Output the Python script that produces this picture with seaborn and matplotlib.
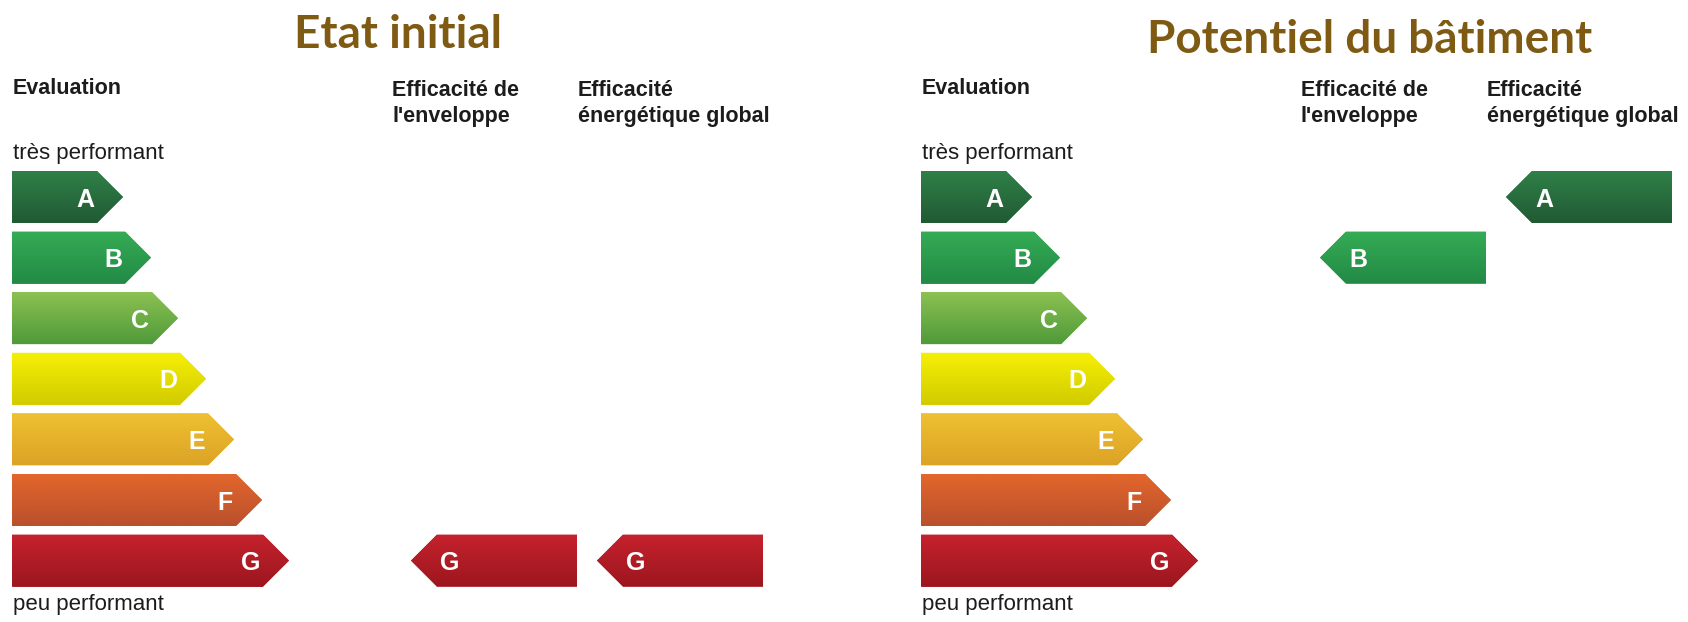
import matplotlib
matplotlib.use("Agg")
import matplotlib.pyplot as plt
from matplotlib import font_manager
from matplotlib.patches import Polygon
from matplotlib.colors import to_rgb
import numpy as np
import pandas as pd
import seaborn as sns

# Energy classes of the scale and length of each bar (rectangle part, px)
classes = ["A", "B", "C", "D", "E", "F", "G"]
bar_lengths = [85, 113, 140, 168, 196, 224, 251]
top_colors = ["#2f8048", "#35ab55", "#8cc152", "#f5ef05", "#efc132", "#e3662c", "#c5222d"]
bottom_colors = ["#215a33", "#228a45", "#4f9a3a", "#d2cb00", "#dca326", "#b9502c", "#9c161e"]

# Ratings for each panel
panel_titles = ["Etat initial", "Potentiel du bâtiment"]
rating_enveloppe = ["G", "B"]
rating_global = ["G", "A"]

# Layout (pixels)
W, H = 1688, 622
ROW0 = 197
ROW_STEP = 60.6
BAR_H = 52
TIP = 26
panel_x = [12, 921]
title_x = [398, 1370]
title_y = [48, 53]
col_x = [425, 611]
RATING_LEN = 140
AX_W = 760

sns.set_theme(style="white")
names = {f.name for f in font_manager.fontManager.ttflist}
if "Liberation Sans Narrow" in names:
    label_font, bold_size, reg_size = "Liberation Sans Narrow", 19, 19.5
else:
    label_font, bold_size, reg_size = "Liberation Sans", 15.5, 16
plt.rcParams["font.family"] = [label_font, "DejaVu Sans"]

fig = plt.figure(figsize=(W / 100, H / 100), dpi=100, facecolor="white")


def ftext(x, y, s, **kw):
    # text placed with pixel coordinates (baseline)
    fig.text(x / W, 1 - y / H, s, va="baseline", **kw)


def draw_arrow(ax, x_left, x_right, yc, idx, pointing="right"):
    h = BAR_H / ROW_STEP / 2
    if pointing == "right":
        pts = [(x_left, yc - h), (x_right, yc - h), (x_right + TIP, yc),
               (x_right, yc + h), (x_left, yc + h)]
        xmin, xmax = x_left, x_right + TIP
    else:
        pts = [(x_left, yc - h), (x_right, yc - h), (x_right, yc + h),
               (x_left, yc + h), (x_left - TIP, yc)]
        xmin, xmax = x_left - TIP, x_right
    top = np.array(to_rgb(top_colors[idx]))
    bot = np.array(to_rgb(bottom_colors[idx]))
    poly = Polygon(pts, closed=True, facecolor=(top + bot) / 2, edgecolor="none", zorder=2)
    ax.add_patch(poly)
    t = np.linspace(0, 1, 64)[:, None, None]
    rgb = top * (1 - t) + bot * t
    im = ax.imshow(rgb, extent=[xmin, xmax, yc + h, yc - h], origin="upper",
                   aspect="auto", zorder=3, interpolation="bilinear")
    im.set_clip_path(poly)


df = pd.DataFrame({"classe": classes, "longueur": bar_lengths})
mid_colors = {c: tuple((np.array(to_rgb(a)) + np.array(to_rgb(b))) / 2)
              for c, a, b in zip(classes, top_colors, bottom_colors)}

for p in range(2):
    ox = panel_x[p]
    ax = fig.add_axes([ox / W, 0, AX_W / W, 1])
    sns.barplot(data=df, x="longueur", y="classe", hue="classe", palette=mid_colors,
                orient="h", width=BAR_H / ROW_STEP, saturation=1, legend=False, ax=ax)

    for patch in list(ax.patches):
        yc = patch.get_y() + patch.get_height() / 2
        idx = int(round(yc))
        x0 = patch.get_x()
        x1 = x0 + patch.get_width()
        draw_arrow(ax, x0, x1, yc, idx, "right")
        ax.text(x1 - 3, yc + 9.5 / ROW_STEP, classes[idx], ha="right", va="baseline",
                color="white", fontsize=18, fontweight="bold",
                family=["Liberation Sans", "DejaVu Sans"], zorder=5)

    # rating arrows (pointing left)
    for col, rating in zip(col_x, [rating_enveloppe[p], rating_global[p]]):
        idx = classes.index(rating)
        draw_arrow(ax, col, col + RATING_LEN, idx, idx, "left")
        ax.text(col + 3, idx + 9.5 / ROW_STEP, rating, ha="left", va="baseline",
                color="white", fontsize=18, fontweight="bold",
                family=["Liberation Sans", "DejaVu Sans"], zorder=5)

    ax.set_xlim(0, AX_W)
    ax.set_ylim((H - ROW0) / ROW_STEP, -ROW0 / ROW_STEP)
    ax.axis("off")

    # texts
    ftext(title_x[p], title_y[p], panel_titles[p], ha="center", color="#7f5a12",
          fontsize=33, fontweight="bold", family=["Lato", "DejaVu Sans"])
    ftext(ox + 1, 94, "Evaluation", color="#1c1c1c", fontsize=bold_size, fontweight="bold")
    ftext(ox + 1, 159, "très performant", color="#1c1c1c", fontsize=reg_size)
    ftext(ox + 1, 610, "peu performant", color="#1c1c1c", fontsize=reg_size)
    ftext(ox + 380, 96, "Efficacité de", color="#1c1c1c", fontsize=bold_size, fontweight="bold")
    ftext(ox + 380, 122, "l'enveloppe", color="#1c1c1c", fontsize=bold_size, fontweight="bold")
    ftext(ox + 566, 96, "Efficacité", color="#1c1c1c", fontsize=bold_size, fontweight="bold")
    ftext(ox + 566, 122, "énergétique global", color="#1c1c1c", fontsize=bold_size, fontweight="bold")

fig.savefig("out.png", dpi=100, facecolor="white")
